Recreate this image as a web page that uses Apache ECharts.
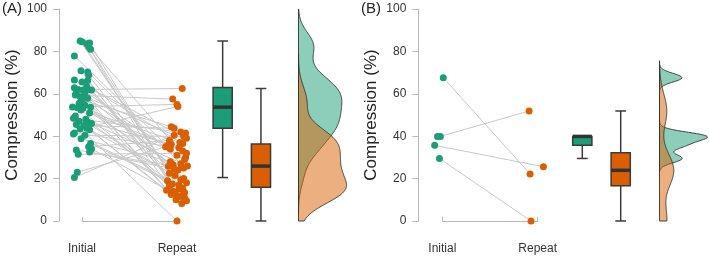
<!DOCTYPE html>
<html><head><meta charset="utf-8">
<script src="https://cdn.jsdelivr.net/npm/echarts@6/dist/echarts.min.js"></script>
<style>html,body{margin:0;padding:0;background:#fff}#c{width:709px;height:259px}</style>
</head><body><div id="c"></div>
<script>
const conditions = ['Initial', 'Repeat'];
const yTicks = [0, 20, 40, 60, 80, 100];
const panelLabels = ['(A)', '(B)'];
const yTitle = 'Compression (%)';

// Panel A: paired values (same index = same subject)
const aInitial = [84.9, 84.6, 84.0, 83.6, 82.2, 81.0, 77.8, 70.9, 70.3, 68.7,
  66.5, 66.3, 65.6, 63.5, 62.8, 62.0, 62.0, 61.8, 61.8, 60.5,
  59.4, 59.4, 58.6, 57.9, 57.0, 55.5, 54.7, 53.8, 53.6, 53.4,
  53.3, 52.4, 51.0, 49.5, 48.5, 48.0, 47.0, 46.5, 46.0, 45.5,
  45.0, 43.8, 43.4, 43.0, 41.5, 41.0, 40.5, 38.8, 36.5, 35.0,
  34.0, 33.5, 32.5, 31.5, 23.0, 20.5];
const aRepeat = [16.0, 22.5, 12.0, 30.0, 19.0, 9.5, 34.0, 14.0, 27.0, 11.0,
  39.0, 17.5, 25.8, 36.5, 13.0, 62.5, 20.0, 31.0, 15.0, 40.5,
  57.5, 24.0, 35.5, 12.5, 44.5, 29.0, 18.0, 55.0, 10.0, 37.0,
  26.5, 16.5, 33.0, 19.5, 41.5, 13.5, 8.3, 36.2, 26.0, 0.0,
  43.7, 21.5, 54.0, 14.5, 34.5, 17.0, 39.8, 28.0, 15.5, 38.0,
  11.5, 25.0, 24.5, 32.0, 35.0, 42.0];
const aInitialJitter = [-0.02, 0.0, 0.08, 0.05, 0.07, 0.09, -0.08, -0.01, 0.06, 0.07,
  -0.08, 0.06, 0.0, 0.05, -0.08, -0.04, 0.06, 0.01, 0.1, -0.06,
  -0.07, 0.03, -0.02, 0.06, 0.0, -0.03, 0.03, -0.1, 0.09, -0.05,
  0.01, -0.01, 0.08, -0.07, -0.09, 0.04, -0.03, 0.07, 0.1, -0.06,
  0.02, 0.05, -0.02, 0.08, -0.08, -0.09, 0.03, -0.01, 0.09, 0.07,
  0.1, -0.06, 0.08, -0.04, -0.05, -0.08];
const aRepeatJitter = [0.03, -0.08, 0.06, 0.09, -0.1, 0.1, -0.07, -0.04, 0.04, 0.08,
  0.1, -0.05, -0.09, 0.06, -0.02, 0.055, 0.07, 0.0, 0.02, -0.03,
  -0.045, 0.01, -0.1, -0.06, -0.06, 0.08, 0.1, 0.0, -0.01, 0.03,
  -0.04, -0.08, 0.06, 0.04, 0.09, 0.08, 0.05, -0.06, 0.11, 0.0,
  -0.03, -0.02, 0.01, -0.11, 0.02, 0.02, 0.07, -0.07, 0.06, -0.08,
  0.03, 0.07, -0.03, 0.1, -0.12, 0.04];

// Panel B
const bInitial = [67.6, 39.9, 39.9, 35.7, 29.5];
const bRepeat = [22.2, 51.9, null, 25.6, 0.0];
const bInitialJitter = [0.01, -0.02, -0.05, -0.08, -0.03];
const bRepeatJitter = [-0.08, -0.09, 0, 0.06, -0.07];

const GREEN = '#1b9e77', ORANGE = '#d95f02';
const GREEN_FILL = 'rgba(27,158,119,0.5)', ORANGE_FILL = 'rgba(217,95,2,0.5)';
const AXIS_GRAY = '#b8b8b8', TEXT = '#333';
const FONT = 'Liberation Sans, Arial, Helvetica, sans-serif';

function quantile(s, p) { const h = (s.length - 1) * p, lo = Math.floor(h), hi = Math.ceil(h); return s[lo] + (h - lo) * (s[hi] - s[lo]); }
function clean(v) { return v.filter(x => x != null); }
function boxStats(values) {
  const s = clean(values).sort((a, b) => a - b);
  const q1 = quantile(s, .25), med = quantile(s, .5), q3 = quantile(s, .75), iqr = q3 - q1;
  const lo = s.find(v => v >= q1 - 1.5 * iqr - 1e-9);
  const hi = s.slice().reverse().find(v => v <= q3 + 1.5 * iqr + 1e-9);
  return [lo, q1, med, q3, hi];
}
function bwNrd0(values) {
  const s = clean(values).sort((a, b) => a - b), n = s.length;
  const mean = s.reduce((a, b) => a + b, 0) / n;
  const sd = Math.sqrt(s.reduce((a, b) => a + (b - mean) * (b - mean), 0) / (n - 1));
  const iqr = quantile(s, .75) - quantile(s, .25);
  let lo = Math.min(sd, iqr / 1.34); if (!(lo > 0)) lo = sd || 1;
  return 0.9 * lo * Math.pow(n, -0.2);
}
function kde(values) {
  const s = clean(values), bw = bwNrd0(values);
  const lo = Math.max(0, Math.min(...s) - 3 * bw), hi = Math.min(100, Math.max(...s) + 3 * bw);
  const pts = [], N = 240;
  for (let i = 0; i <= N; i++) {
    const y = lo + (hi - lo) * i / N; let d = 0;
    for (const v of s) { const z = (y - v) / bw; d += Math.exp(-0.5 * z * z); }
    pts.push([d / (s.length * bw * Math.sqrt(2 * Math.PI)), y]);
  }
  return pts;
}

const panels = [
  { ini: aInitial, rep: aRepeat, ij: aInitialJitter, rj: aRepeatJitter, label: panelLabels[0],
    scatterLeft: 82, scatterW: 95, yOff: 23, boxLeft: 203.5, boxW: 76.6, violLeft: 298.5, titleLeft: 2 },
  { ini: bInitial, rep: bRepeat, ij: bInitialJitter, rj: bRepeatJitter, label: panelLabels[1],
    scatterLeft: 442.3, scatterW: 95.4, yOff: 24, boxLeft: 563.1, boxW: 76.8, violLeft: 659.5, titleLeft: 361 }
];

const grids = [], xAxes = [], yAxes = [], series = [], titles = [];
const TOP = 9, H = 212, VIOL_W = 48;
const hiddenY = g => ({ gridIndex: g, type: 'value', min: 0, max: 100, interval: 20, show: false });

panels.forEach((p, k) => {
  const g0 = k * 3, g1 = g0 + 1, g2 = g0 + 2;
  titles.push({ text: p.label, left: p.titleLeft, top: 1, padding: 0,
    textStyle: { fontSize: 15, fontWeight: 'normal', color: '#222', fontFamily: FONT } });
  grids.push({ left: p.scatterLeft, top: TOP, width: p.scatterW, height: H });
  xAxes.push({ gridIndex: g0, type: 'value', min: 1, max: 2, interval: 1, position: 'bottom', offset: 11,
    axisLine: { show: true, lineStyle: { color: AXIS_GRAY, width: 1 } },
    axisTick: { show: true, inside: true, length: 4, lineStyle: { color: AXIS_GRAY } },
    axisLabel: { formatter: v => conditions[Math.round(v) - 1] || '', margin: 11, fontSize: 12, color: TEXT, fontFamily: FONT },
    splitLine: { show: false } });
  yAxes.push({ gridIndex: g0, type: 'value', min: yTicks[0], max: yTicks[yTicks.length - 1], interval: yTicks[1] - yTicks[0],
    offset: p.yOff, name: yTitle, nameLocation: 'middle', nameGap: 38, nameRotate: 90,
    nameTextStyle: { fontSize: 17, color: '#222', fontFamily: FONT },
    axisLine: { show: true, lineStyle: { color: AXIS_GRAY, width: 1 } },
    axisTick: { show: true, length: 6, lineStyle: { color: AXIS_GRAY } },
    axisLabel: { margin: 12, fontSize: 12, color: TEXT, fontFamily: FONT },
    splitLine: { show: false } });
  grids.push({ left: p.boxLeft, top: TOP, width: p.boxW, height: H });
  xAxes.push({ gridIndex: g1, type: 'category', data: conditions, show: false });
  yAxes.push(hiddenY(g1));
  const dI = kde(p.ini), dR = kde(p.rep);
  const maxD = Math.max(...dI.map(d => d[0]), ...dR.map(d => d[0]));
  grids.push({ left: p.violLeft, top: TOP, width: VIOL_W, height: H });
  xAxes.push({ gridIndex: g2, type: 'value', min: 0, max: maxD, show: false });
  yAxes.push(hiddenY(g2));

  const pairs = [];
  p.ini.forEach((v, i) => { if (v != null && p.rep[i] != null) pairs.push([1 + p.ij[i], v, 2 + p.rj[i], p.rep[i]]); });
  series.push({ type: 'custom', xAxisIndex: g0, yAxisIndex: g0, data: pairs, clip: false, silent: true, z: 1,
    encode: { x: [0, 2], y: [1, 3] },
    renderItem: (params, api) => {
      const a = api.coord([api.value(0), api.value(1)]), b = api.coord([api.value(2), api.value(3)]);
      return { type: 'line', shape: { x1: a[0], y1: a[1], x2: b[0], y2: b[1] }, style: { stroke: '#c9c9c9', lineWidth: 1 } };
    } });
  series.push({ type: 'scatter', xAxisIndex: g0, yAxisIndex: g0, clip: false, z: 3, symbolSize: 7,
    itemStyle: { color: GREEN, opacity: 1 }, data: p.ini.map((v, i) => v == null ? null : [1 + p.ij[i], v]).filter(Boolean) });
  series.push({ type: 'scatter', xAxisIndex: g0, yAxisIndex: g0, clip: false, z: 3, symbolSize: 7,
    itemStyle: { color: ORANGE, opacity: 1 }, data: p.rep.map((v, i) => v == null ? null : [2 + p.rj[i], v]).filter(Boolean) });

  const boxColors = [GREEN, ORANGE];
  series.push({ type: 'custom', xAxisIndex: g1, yAxisIndex: g1, clip: false, silent: true,
    data: [[0, ...boxStats(p.ini)], [1, ...boxStats(p.rep)]],
    encode: { x: 0, y: [1, 2, 3, 4, 5] },
    renderItem: (params, api) => {
      const x = api.value(0), st = [1, 2, 3, 4, 5].map(i => api.value(i));
      const band = api.size([1, 0])[0], hw = band * 0.25, cw = band * 0.14;
      const cx = api.coord([x, st[2]])[0], Y = v => api.coord([x, v])[1];
      const ls = { stroke: '#3a3a3a', lineWidth: 1.5 };
      return { type: 'group', children: [
        { type: 'line', shape: { x1: cx, y1: Y(st[0]), x2: cx, y2: Y(st[1]) }, style: ls },
        { type: 'line', shape: { x1: cx, y1: Y(st[3]), x2: cx, y2: Y(st[4]) }, style: ls },
        { type: 'line', shape: { x1: cx - cw, y1: Y(st[0]), x2: cx + cw, y2: Y(st[0]) }, style: ls },
        { type: 'line', shape: { x1: cx - cw, y1: Y(st[4]), x2: cx + cw, y2: Y(st[4]) }, style: ls },
        { type: 'rect', shape: { x: cx - hw, y: Y(st[3]), width: 2 * hw, height: Y(st[1]) - Y(st[3]) },
          style: { fill: boxColors[params.dataIndex], stroke: '#3a3a3a', lineWidth: 1.5 } },
        { type: 'line', shape: { x1: cx - hw, y1: Y(st[2]), x2: cx + hw, y2: Y(st[2]) }, style: { stroke: '#333', lineWidth: 3.5 } }
      ] };
    } });

  [[dI, GREEN_FILL], [dR, ORANGE_FILL]].forEach(([pts, fill]) => {
    series.push({ type: 'custom', xAxisIndex: g2, yAxisIndex: g2, clip: false, silent: true, data: [[0, pts[0][1]]],
      renderItem: (params, api) => {
        const poly = [api.coord([0, pts[0][1]])];
        pts.forEach(q => poly.push(api.coord(q)));
        poly.push(api.coord([0, pts[pts.length - 1][1]]));
        return { type: 'polygon', shape: { points: poly }, style: { fill: fill, stroke: '#333', lineWidth: 0.9 } };
      } });
  });
});

const chart = echarts.init(document.getElementById('c'), null, { renderer: 'canvas' });
chart.setOption({ animation: false, backgroundColor: '#fff', title: titles, grid: grids, xAxis: xAxes, yAxis: yAxes, series: series,
  textStyle: { fontFamily: FONT } });
</script></body></html>
